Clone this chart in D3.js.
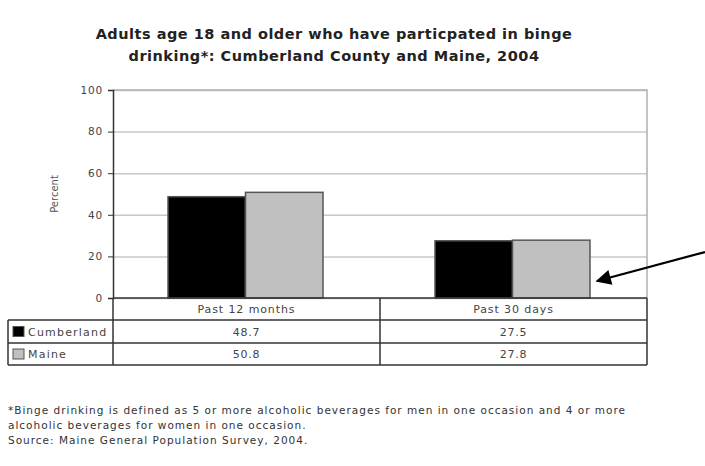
<!DOCTYPE html>
<html>
<head>
<meta charset="utf-8">
<script src="https://cdn.jsdelivr.net/npm/d3@7"></script>
<style>
  body { margin: 0; background: #fff; }
  svg { font-family: "DejaVu Sans", Verdana, sans-serif; display: block; }
</style>
</head>
<body>
<div id="chart"></div>
<script>
var categories = ["Past 12 months", "Past 30 days"];
var series_names = ["Cumberland", "Maine"];
var cumberland = [48.7, 27.5];
var maine = [50.8, 27.8];
var y_ticks = [0, 20, 40, 60, 80, 100];
var title_lines = ["Adults age 18 and older who have particpated in binge",
                   "drinking*: Cumberland County and Maine, 2004"];
var note_lines = ["*Binge drinking is defined as 5 or more alcoholic beverages for men in one occasion and 4 or more",
                  "alcoholic beverages for women in one occasion.",
                  "Source: Maine General Population Survey, 2004."];

var series = [
  { name: series_names[0], values: cumberland, fill: "#000000" },
  { name: series_names[1], values: maine, fill: "#c0c0c0" }
];

var svg = d3.select("#chart").append("svg")
  .attr("width", 705)
  .attr("height", 466);

// == scales ==
var plot = { left: 113, right: 647, top: 90, bottom: 298 };

var x = d3.scaleBand()
  .domain(categories)
  .range([plot.left, plot.right]);

// bars sit a little left of centre in each band
var x_inner = d3.scaleBand()
  .domain(series_names)
  .range([55, 210]);

var y = d3.scaleLinear()
  .domain([0, 100])
  .range([plot.bottom, plot.top]);

// == title ==
svg.selectAll("text.title")
  .data(title_lines)
  .enter()
  .append("text")
  .attr("class", "title")
  .attr("x", 334)
  .attr("y", function (d, i) { return 39 + i * 22; })
  .attr("text-anchor", "middle")
  .style("font-weight", "bold")
  .style("font-size", "14.5px")
  .style("letter-spacing", "0.5px")
  .attr("fill", "#222")
  .text(function (d) { return d; });

// -- grid lines --
svg.append("g")
  .attr("transform", "translate(" + plot.left + ",0)")
  .call(d3.axisLeft(y).tickValues(y_ticks).tickSize(-(plot.right - plot.left)).tickFormat(""))
  .call(function (g) {
    g.select(".domain").remove();
    g.selectAll("line").attr("stroke", "#c8c8c8").attr("stroke-width", 1.5);
  });

// plot border (right / top)
svg.append("path")
  .attr("d", "M" + plot.left + "," + plot.top + "H" + plot.right + "V" + plot.bottom)
  .attr("fill", "none")
  .attr("stroke", "#b0b0b0")
  .attr("stroke-width", 1.5);

// -- y axis --
svg.append("g")
  .attr("transform", "translate(" + plot.left + ",0)")
  .call(d3.axisLeft(y).tickValues(y_ticks).tickSize(5).tickPadding(5))
  .call(function (g) {
    g.select(".domain").attr("stroke", "#333").attr("stroke-width", 1.5);
    g.selectAll("line").attr("stroke", "#333");
    g.selectAll("text").attr("fill", "#444").style("font-size", "10.5px")
      .style("letter-spacing", "0.8px")
      .style("font-family", "'DejaVu Sans', Verdana, sans-serif");
  });

svg.append("text")
  .attr("transform", "translate(58," + y(50) + ") rotate(-90)")
  .attr("text-anchor", "middle")
  .style("font-size", "10px")
  .attr("fill", "#555")
  .text("Percent");

// == bars ==
var groups = svg.selectAll("g.cat")
  .data(categories)
  .enter()
  .append("g")
  .attr("class", "cat")
  .attr("transform", function (d) { return "translate(" + x(d) + ",0)"; });

groups.selectAll("rect")
  .data(function (d, ci) {
    return series.map(function (s) { return { name: s.name, value: s.values[ci], fill: s.fill }; });
  })
  .enter()
  .append("rect")
  .attr("x", function (d) { return x_inner(d.name); })
  .attr("y", function (d) { return y(d.value); })
  .attr("width", x_inner.bandwidth())
  .attr("height", function (d) { return y(0) - y(d.value); })
  .attr("fill", function (d) { return d.fill; })
  .attr("stroke", "#555")
  .attr("stroke-width", 1.5);

// == data table ==
var table_left = 8;
var row_y = [plot.bottom, 320, 343, 365];

var tbl = svg.append("g").attr("stroke", "#333").attr("stroke-width", 1.5);
// horizontal lines
tbl.append("line").attr("x1", plot.left).attr("x2", plot.right).attr("y1", row_y[0]).attr("y2", row_y[0]);
row_y.slice(1).forEach(function (ry) {
  tbl.append("line").attr("x1", table_left).attr("x2", plot.right).attr("y1", ry).attr("y2", ry);
});
// vertical lines
tbl.append("line").attr("x1", table_left).attr("x2", table_left).attr("y1", row_y[1]).attr("y2", row_y[3]);
tbl.append("line").attr("x1", plot.left).attr("x2", plot.left).attr("y1", row_y[0]).attr("y2", row_y[3]);
tbl.append("line").attr("x1", x(categories[1])).attr("x2", x(categories[1])).attr("y1", row_y[0]).attr("y2", row_y[3]);
tbl.append("line").attr("x1", plot.right).attr("x2", plot.right).attr("y1", row_y[0]).attr("y2", row_y[3]);

// header
svg.selectAll("text.col")
  .data(categories)
  .enter()
  .append("text")
  .attr("class", "col")
  .attr("x", function (d) { return x(d) + x.bandwidth() / 2; })
  .attr("y", (row_y[0] + row_y[1]) / 2 + 4)
  .attr("text-anchor", "middle")
  .style("font-size", "11px")
  .style("letter-spacing", "0.9px")
  .attr("fill", "#444")
  .text(function (d) { return d; });

// rows
series.forEach(function (s, si) {
  var cy = (row_y[si + 1] + row_y[si + 2]) / 2;
  svg.append("rect")
    .attr("x", 13).attr("y", cy - 5).attr("width", 11).attr("height", 10)
    .attr("fill", s.fill).attr("stroke", "#555").attr("stroke-width", 1);
  svg.append("text")
    .attr("x", 28).attr("y", cy + 4)
    .style("font-size", "11px")
    .style("letter-spacing", "1.2px")
    .attr("fill", "#444")
    .text(s.name);
  svg.selectAll("text.v" + si)
    .data(s.values)
    .enter()
    .append("text")
    .attr("class", "v" + si)
    .attr("x", function (d, i) { return x(categories[i]) + x.bandwidth() / 2; })
    .attr("y", cy + 4)
    .attr("text-anchor", "middle")
    .style("font-size", "11px")
    .style("letter-spacing", "0.7px")
    .attr("fill", "#444")
    .text(function (d) { return d.toFixed(1); });
});

// == arrow ==
svg.append("defs").append("marker")
  .attr("id", "head")
  .attr("viewBox", "0 0 10 10")
  .attr("refX", 9).attr("refY", 5)
  .attr("markerWidth", 9).attr("markerHeight", 7)
  .attr("markerUnits", "strokeWidth")
  .attr("orient", "auto")
  .append("path")
  .attr("d", "M0,0L10,5L0,10Z")
  .attr("fill", "#000");

svg.append("line")
  .attr("x1", 705).attr("y1", 252)
  .attr("x2", 597).attr("y2", 281)
  .attr("stroke", "#000")
  .attr("stroke-width", 2.2)
  .attr("marker-end", "url(#head)");

// == footnote ==
svg.selectAll("text.note")
  .data(note_lines)
  .enter()
  .append("text")
  .attr("class", "note")
  .attr("x", 8)
  .attr("y", function (d, i) { return 414 + i * 15; })
  .style("font-size", "10.5px")
  .style("letter-spacing", "1px")
  .attr("fill", "#333")
  .text(function (d) { return d; });
</script>
</body>
</html>
